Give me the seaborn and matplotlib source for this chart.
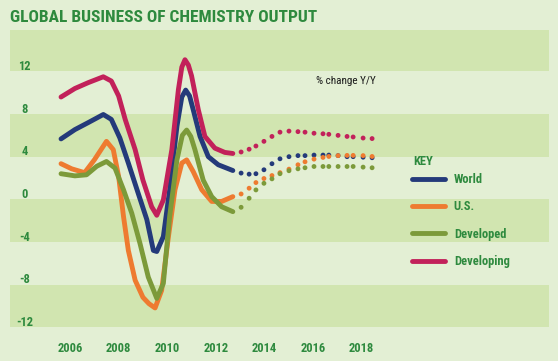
import matplotlib
matplotlib.use('Agg')
import matplotlib.pyplot as plt
from matplotlib import font_manager
import seaborn as sns
import pandas as pd

# --- values (year, % change Y/Y) ---
series_order = ['World', 'U.S.', 'Developed', 'Developing']

world_years = [2005.63, 2006.2, 2006.75, 2007.37, 2007.7, 2008.05, 2008.4, 2008.8, 2009.16, 2009.43,
               2009.57, 2009.84, 2010.1, 2010.4, 2010.6, 2010.76, 2010.92, 2011.07, 2011.35, 2011.69,
               2012.1, 2012.7]
world_vals = [5.07, 5.94, 6.6, 7.36, 6.9, 5.16, 2.8, 0.0, -2.5, -5.4,
              -5.5, -4.1, 0.3, 6.25, 9.0, 9.65, 9.1, 7.8, 5.3, 3.4,
              2.64, 2.1]

us_years = [2005.63, 2006.07, 2006.6, 2007.0, 2007.5, 2007.78, 2008.0, 2008.2, 2008.4, 2008.68,
            2009.0, 2009.25, 2009.5, 2009.77, 2010.05, 2010.32, 2010.6, 2010.8, 2011.07, 2011.42,
            2011.83, 2012.24, 2012.7]
us_vals = [2.74, 2.26, 1.9, 3.1, 4.84, 4.06, 1.54, -2.2, -5.4, -8.2,
           -9.8, -10.4, -10.8, -9.15, -4.1, 0.3, 2.8, 3.1, 2.0, 0.3,
           -0.8, -0.8, -0.35]

developed_years = [2005.63, 2006.2, 2006.68, 2007.1, 2007.5, 2007.85, 2008.2, 2008.54, 2008.88, 2009.22,
                   2009.57, 2009.84, 2010.1, 2010.4, 2010.62, 2010.8, 2010.97, 2011.14, 2011.48, 2011.83,
                   2012.24, 2012.7]
developed_vals = [1.8, 1.6, 1.7, 2.5, 2.95, 2.33, 0.3, -1.9, -4.75, -7.9,
                  -9.9, -8.5, -2.2, 3.1, 5.4, 5.9, 5.3, 4.06, 1.2, -0.35,
                  -1.3, -1.76]

developing_years = [2005.63, 2006.2, 2006.75, 2007.37, 2007.7, 2008.0, 2008.27, 2008.68, 2009.0, 2009.36,
                    2009.57, 2009.84, 2010.19, 2010.46, 2010.6, 2010.73, 2010.87, 2011.0, 2011.28, 2011.55,
                    2011.96, 2012.37, 2012.7]
developing_vals = [9.0, 9.8, 10.35, 10.9, 10.5, 9.1, 6.9, 4.06, 1.2, -1.3,
                   -2.1, -0.66, 4.06, 9.7, 11.8, 12.5, 12.0, 11.0, 7.8, 5.3,
                   4.2, 3.8, 3.7]

# forecast (dotted part)
forecast_years = [2013.04, 2013.37, 2013.65, 2013.98, 2014.31, 2014.64, 2015.01, 2015.38, 2015.67,
                  2016.04, 2016.41, 2016.65, 2017.03, 2017.40, 2017.65, 2018.06, 2018.43]
world_fc = [1.86, 1.76, 1.8, 2.17, 2.74, 3.2, 3.4, 3.5, 3.5, 3.55, 3.55, 3.55, 3.5, 3.4, 3.4, 3.35, 3.3]
us_fc = [-0.1, 0.44, 0.97, 1.35, 1.63, 1.9, 2.23, 2.64, 2.92, 3.17, 3.33, 3.42, 3.5, 3.52, 3.52, 3.5, 3.42]
developed_fc = [-1.35, -0.5, 0.28, 0.9, 1.32, 1.8, 2.08, 2.26, 2.36, 2.48, 2.48, 2.48, 2.48, 2.48, 2.48, 2.42, 2.36]
developing_fc = [3.84, 4.1, 4.4, 4.84, 5.3, 5.7, 5.8, 5.75, 5.7, 5.6, 5.55, 5.5, 5.4, 5.3, 5.25, 5.15, 5.1]

x_ticks = [2006, 2008, 2010, 2012, 2014, 2016, 2018]
y_ticks = [12, 8, 4, 0, -4, -8, -12]

colors = {'World': '#243a7a', 'U.S.': '#ee7b30', 'Developed': '#7c9a3a', 'Developing': '#c2215a'}
green_txt = '#2e8a3e'
bg = '#e3efd4'
band = '#d1e5b0'

hist = pd.concat([
    pd.DataFrame({'year': world_years, 'value': world_vals, 'series': 'World'}),
    pd.DataFrame({'year': us_years, 'value': us_vals, 'series': 'U.S.'}),
    pd.DataFrame({'year': developed_years, 'value': developed_vals, 'series': 'Developed'}),
    pd.DataFrame({'year': developing_years, 'value': developing_vals, 'series': 'Developing'}),
])
fc = pd.concat([
    pd.DataFrame({'year': forecast_years, 'value': world_fc, 'series': 'World'}),
    pd.DataFrame({'year': forecast_years, 'value': us_fc, 'series': 'U.S.'}),
    pd.DataFrame({'year': forecast_years, 'value': developed_fc, 'series': 'Developed'}),
    pd.DataFrame({'year': forecast_years, 'value': developing_fc, 'series': 'Developing'}),
])

sns.set_style('white')
installed = {f.name for f in font_manager.fontManager.ttflist}
narrow = 'DejaVu Sans'
for cand in ['Liberation Sans Narrow', 'Roboto Condensed', 'DejaVu Sans Condensed']:
    if cand in installed:
        narrow = cand
        break
plt.rcParams['font.family'] = [narrow, 'DejaVu Sans']

fig = plt.figure(figsize=(5.58, 3.61), dpi=100, facecolor=bg)
ax = fig.add_axes([10 / 558, 1 - 328 / 361, 539 / 558, 298 / 361])
ax.set_facecolor(bg)
ax.set_xlim(2003.53, 2025.71)
ax.set_ylim(-12.68, 15.29)

# alternating horizontal bands
for lo in [11.4, 3.4, -4.6, -12.6]:
    ax.axhspan(lo, lo + 4, color=band, lw=0, zorder=0)

sns.lineplot(data=hist, x='year', y='value', hue='series', hue_order=series_order,
             palette=colors, estimator=None, sort=False, linewidth=3.5, ax=ax)
for ln in ax.get_lines():
    ln.set_solid_capstyle('round')
    ln.set_solid_joinstyle('round')
sns.scatterplot(data=fc, x='year', y='value', hue='series', hue_order=series_order,
                palette=colors, s=12, linewidth=0, legend=False, ax=ax, zorder=3)

for s in ax.spines.values():
    s.set_visible(False)
ax.set_xlabel('')
ax.set_ylabel('')
ax.set_xticks(x_ticks)
ax.set_xticklabels([str(t) for t in x_ticks])
ax.set_yticks(y_ticks)
ax.set_yticklabels([str(t) for t in y_ticks])
ax.tick_params(axis='x', length=0, pad=10, labelsize=9, labelcolor=green_txt)
ax.tick_params(axis='y', length=0, pad=-10.5, labelsize=9, labelcolor=green_txt)
for lab in ax.get_xticklabels() + ax.get_yticklabels():
    lab.set_fontweight('bold')
for lab in ax.get_yticklabels():
    lab.set_horizontalalignment('center')

handles, labels = ax.get_legend_handles_labels()
leg = ax.legend(handles, labels, loc='upper left',
                bbox_to_anchor=((412 - 10) / 539, (328 - 173) / 298),
                frameon=False, handlelength=2.6, handletextpad=0.75, labelspacing=1.15,
                borderpad=0, borderaxespad=0,
                prop={'weight': 'bold', 'size': 9}, labelcolor=green_txt)
for h in leg.legend_handles:
    h.set_linewidth(3.5)
    h.set_solid_capstyle('round')

fig.text(413 / 558, 1 - 162 / 361, 'KEY', fontsize=9, fontweight='bold', color=green_txt,
         ha='left', va='center')
fig.text(346 / 558, 1 - 81 / 361, '% change Y/Y', fontsize=8, color='#1a1a1a', ha='center', va='center')
fig.text(10 / 558, 1 - 17 / 361, 'GLOBAL BUSINESS OF CHEMISTRY OUTPUT', fontsize=12.5,
         fontweight='bold', color=green_txt, ha='left', va='center')

fig.savefig('out.png', dpi=100, facecolor=bg)
